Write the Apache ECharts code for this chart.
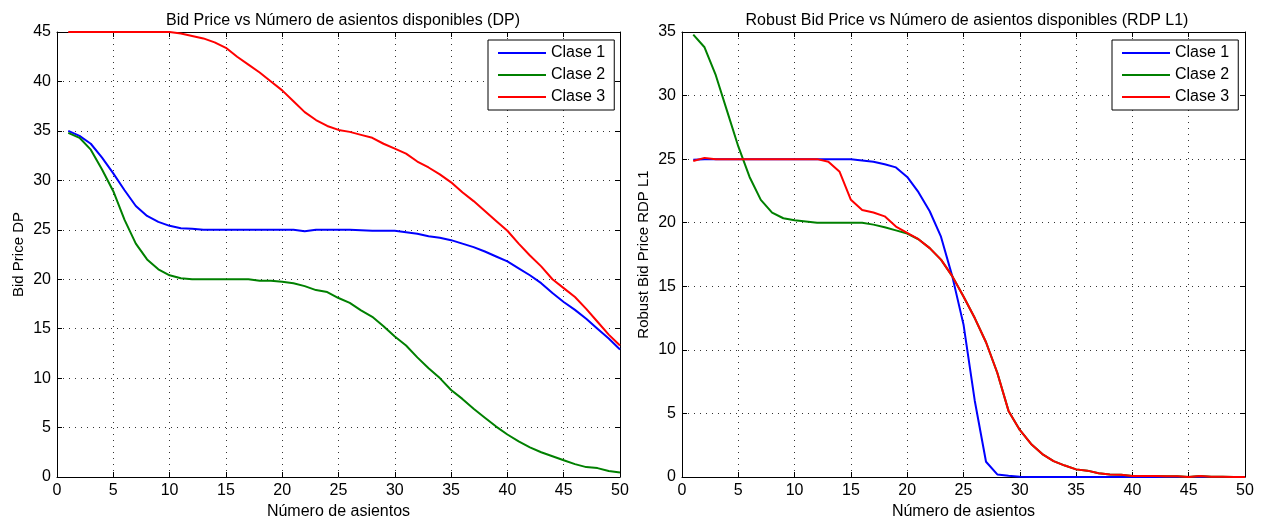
<!DOCTYPE html>
<html>
<head>
    <meta charset="UTF-8">
    <title>Bid Price vs Número de asientos disponibles</title>
    <script src="https://cdn.jsdelivr.net/npm/echarts@6/dist/echarts.min.js"></script>
</head>
<body style="margin: 0;overflow: hidden;background: #fff;">
<div id="chart" style="width: 1262px;height: 521px"></div>
<script type="text/javascript">
    // number of seats available (x values, shared by both panels)
    var seats = [1, 2, 3, 4, 5, 6, 7, 8, 9, 10, 11, 12, 13, 14, 15, 16, 17, 18, 19, 20,
        21, 22, 23, 24, 25, 26, 27, 28, 29, 30, 31, 32, 33, 34, 35, 36, 37, 38, 39, 40,
        41, 42, 43, 44, 45, 46, 47, 48, 49, 50];
    var classNames = ['Clase 1', 'Clase 2', 'Clase 3'];

    // left panel: DP
    var dpClase1 = [35.0, 34.5, 33.7, 32.3, 30.7, 29.0, 27.4, 26.4, 25.8, 25.4,
        25.15, 25.1, 25.0, 25.0, 25.0, 25.0, 25.0, 25.0, 25.0, 25.0,
        25.0, 24.85, 25.0, 25.0, 25.0, 25.0, 24.95, 24.9, 24.9, 24.9,
        24.75, 24.6, 24.35, 24.2, 23.95, 23.6, 23.25, 22.8, 22.3, 21.8,
        21.1, 20.4, 19.6, 18.6, 17.7, 16.9, 16.0, 15.0, 14.0, 12.9];
    var dpClase2 = [34.8, 34.3, 33.1, 31.1, 28.9, 26.0, 23.6, 22.0, 21.0, 20.4,
        20.1, 20.0, 20.0, 20.0, 20.0, 20.0, 20.0, 19.85, 19.85, 19.75,
        19.6, 19.3, 18.9, 18.7, 18.1, 17.6, 16.85, 16.2, 15.25, 14.2,
        13.3, 12.1, 11.0, 10.0, 8.8, 7.9, 6.9, 6.0, 5.1, 4.3,
        3.6, 3.0, 2.5, 2.1, 1.7, 1.3, 1.0, 0.9, 0.6, 0.45];
    var dpClase3 = [45, 45, 45, 45, 45, 45, 45, 45, 45, 45,
        44.85, 44.6, 44.35, 43.95, 43.4, 42.5, 41.7, 40.9, 40.0, 39.1,
        38.0, 36.9, 36.1, 35.5, 35.1, 34.9, 34.6, 34.3, 33.7, 33.2,
        32.7, 31.9, 31.3, 30.6, 29.8, 28.8, 27.9, 26.9, 25.9, 24.9,
        23.6, 22.4, 21.3, 20.0, 19.1, 18.2, 17.0, 15.7, 14.4, 13.3];

    // right panel: RDP L1
    var rdpClase1 = [24.95, 25.0, 25.0, 25.0, 25.0, 25.0, 25.0, 25.0, 25.0, 25.0,
        25.0, 25.0, 25.0, 25.0, 25.0, 24.9, 24.8, 24.6, 24.35, 23.6,
        22.4, 20.9, 18.9, 15.8, 12.0, 6.0, 1.2, 0.2, 0.1, 0.02,
        0, 0, 0, 0, 0, 0, 0, 0, 0, 0,
        0, 0, 0, 0, 0, 0, 0, 0, 0, 0];
    var rdpClase2 = [34.8, 33.8, 31.6, 28.8, 26.0, 23.6, 21.8, 20.8, 20.35, 20.2,
        20.1, 20.0, 20.0, 20.0, 20.0, 20.0, 19.85, 19.65, 19.4, 19.15,
        18.7, 18.0, 17.1, 15.8, 14.2, 12.5, 10.6, 8.2, 5.2, 3.7,
        2.6, 1.8, 1.25, 0.9, 0.6, 0.5, 0.3, 0.2, 0.18, 0.08,
        0.07, 0.07, 0.06, 0.05, 0.0, 0.08, 0.02, 0.01, 0, 0];
    var rdpClase3 = [24.85, 25.1, 25.0, 25.0, 25.0, 25.0, 25.0, 25.0, 25.0, 25.0,
        25.0, 25.0, 24.8, 24.0, 21.8, 21.0, 20.8, 20.5, 19.7, 19.2,
        18.7, 18.0, 17.1, 15.8, 14.2, 12.5, 10.6, 8.2, 5.2, 3.7,
        2.6, 1.8, 1.25, 0.9, 0.6, 0.5, 0.3, 0.2, 0.18, 0.08,
        0.07, 0.07, 0.06, 0.05, 0.0, 0.08, 0.02, 0.01, 0, 0];

    var font = '"Liberation Sans", Arial, Helvetica, sans-serif';
    var colors = ['#0000ff', '#008000', '#ff0000'];

    function pairs(ys) {
        return seats.map(function (s, i) {
            return [s, ys[i]];
        });
    }

    var dotted = {show: true, lineStyle: {color: '#333', width: 1, type: [1, 5]}};

    function mainAxis(gridIndex, position, max, name, gap, nameSize) {
        return {
            type: 'value', gridIndex: gridIndex, position: position,
            min: 0, max: max, interval: 5,
            name: name, nameLocation: 'middle', nameGap: gap,
            nameTextStyle: {color: '#000', fontSize: nameSize, fontFamily: font},
            axisLine: {show: true, onZero: false, lineStyle: {color: '#000', width: 1}},
            axisTick: {show: true, inside: true, length: 5, lineStyle: {color: '#000'}},
            axisLabel: {color: '#000', fontSize: 16, fontFamily: font, margin: 6},
            splitLine: dotted
        };
    }

    // plain axes on the top and right edges to close the box (ticks only)
    function sideAxis(gridIndex, position, max) {
        return {
            type: 'value', gridIndex: gridIndex, position: position,
            min: 0, max: max, interval: 5,
            axisLine: {show: true, onZero: false, lineStyle: {color: '#000', width: 1}},
            axisTick: {show: true, inside: true, length: 5, lineStyle: {color: '#000'}},
            axisLabel: {show: false},
            splitLine: {show: false}
        };
    }

    function legend(left) {
        return {
            orient: 'vertical', left: left, top: 40,
            data: classNames,
            icon: 'rect', itemWidth: 48, itemHeight: 2, itemGap: 6,
            padding: [5, 9, 5, 10],
            borderColor: '#000', borderWidth: 1, borderRadius: 0,
            backgroundColor: '#fff',
            textStyle: {color: '#000', fontSize: 16, fontFamily: font, lineHeight: 15}
        };
    }

    function line(name, xi, data, c) {
        return {
            name: name, type: 'line', xAxisIndex: xi, yAxisIndex: xi,
            data: pairs(data), showSymbol: false, symbol: 'none',
            lineStyle: {color: c, width: 2}, itemStyle: {color: c},
            z: 3
        };
    }

    var chart = echarts.init(document.getElementById('chart'));
    chart.setOption({
        animation: false,
        backgroundColor: '#fff',
        title: [{
            text: 'Bid Price vs Número de asientos disponibles (DP)',
            left: 338, top: 8, textAlign: 'center',
            textStyle: {fontSize: 16, fontWeight: 'normal', color: '#000', fontFamily: font}
        }, {
            text: 'Robust Bid Price vs Número de asientos disponibles (RDP L1)',
            left: 962, top: 8, textAlign: 'center',
            textStyle: {fontSize: 16, fontWeight: 'normal', color: '#000', fontFamily: font}
        }],
        legend: [legend(488), legend(1112)],
        grid: [
            {left: 57, right: 642, top: 32, bottom: 44, outerBoundsMode: 'none'},
            {left: 682, right: 17, top: 32, bottom: 44, outerBoundsMode: 'none'}
        ],
        xAxis: [
            mainAxis(0, 'bottom', 50, 'Número de asientos', 25, 16),
            mainAxis(1, 'bottom', 50, 'Número de asientos', 25, 16),
            sideAxis(0, 'top', 50),
            sideAxis(1, 'top', 50)
        ],
        yAxis: [
            mainAxis(0, 'left', 45, 'Bid Price DP', 31, 15),
            mainAxis(1, 'left', 35, 'Robust Bid Price RDP L1', 31, 15),
            sideAxis(0, 'right', 45),
            sideAxis(1, 'right', 35)
        ],
        series: [
            line(classNames[0], 0, dpClase1, colors[0]),
            line(classNames[1], 0, dpClase2, colors[1]),
            line(classNames[2], 0, dpClase3, colors[2]),
            line(classNames[0], 1, rdpClase1, colors[0]),
            line(classNames[1], 1, rdpClase2, colors[1]),
            line(classNames[2], 1, rdpClase3, colors[2])
        ]
    });
</script>
</body>
</html>
